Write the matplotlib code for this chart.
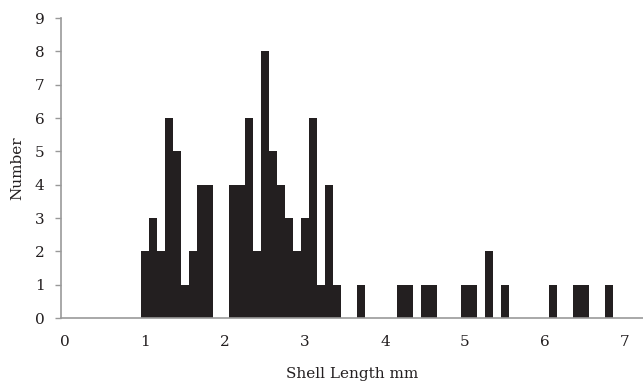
import numpy as np
import matplotlib
matplotlib.use("Agg")
import matplotlib.pyplot as plt

# shell length classes, 0.0 .. 7.2 mm in 0.1 steps
lengths = np.round(np.arange(0, 73) * 0.1, 1)
counts = [0, 0, 0, 0, 0, 0, 0, 0, 0, 0,
          2, 3, 2, 6, 5, 1, 2, 4, 4, 0,
          0, 4, 4, 6, 2, 8, 5, 4, 3, 2,
          3, 6, 1, 4, 1, 0, 0, 1, 0, 0,
          0, 0, 1, 1, 0, 1, 1, 0, 0, 0,
          1, 1, 0, 2, 0, 1, 0, 0, 0, 0,
          0, 1, 0, 0, 1, 1, 0, 0, 1, 0,
          0, 0, 0]
xticks = [0, 1, 2, 3, 4, 5, 6, 7]
yticks = list(range(0, 10))

plt.rcParams['font.family'] = ['DejaVu Serif']

fig = plt.figure(figsize=(6.43, 3.82), dpi=100)
ax = fig.add_axes([61/643, 1 - 318/382, 582/643, 300/382])

ax.bar(lengths, counts, width=0.1, color='#231f20', edgecolor='none')

ax.set_xlim(-0.05, 7.225)
ax.set_ylim(0, 9)
ax.set_xticks(xticks)
ax.set_yticks(yticks)
ax.tick_params(axis='x', length=0, pad=12, labelsize=11, colors='#231f20')
ax.tick_params(axis='y', length=4.3, width=1, color='#999999', labelsize=11,
               labelcolor='#231f20', pad=7.5)

for s in ['top', 'right']:
    ax.spines[s].set_visible(False)
for s in ['left', 'bottom']:
    ax.spines[s].set_color('#999999')
    ax.spines[s].set_linewidth(1.2)

ax.set_xlabel('Shell Length mm', fontsize=11, color='#231f20', labelpad=13)
ax.set_ylabel('Number', fontsize=11, color='#231f20', labelpad=8)

fig.savefig('out.png', dpi=100)
